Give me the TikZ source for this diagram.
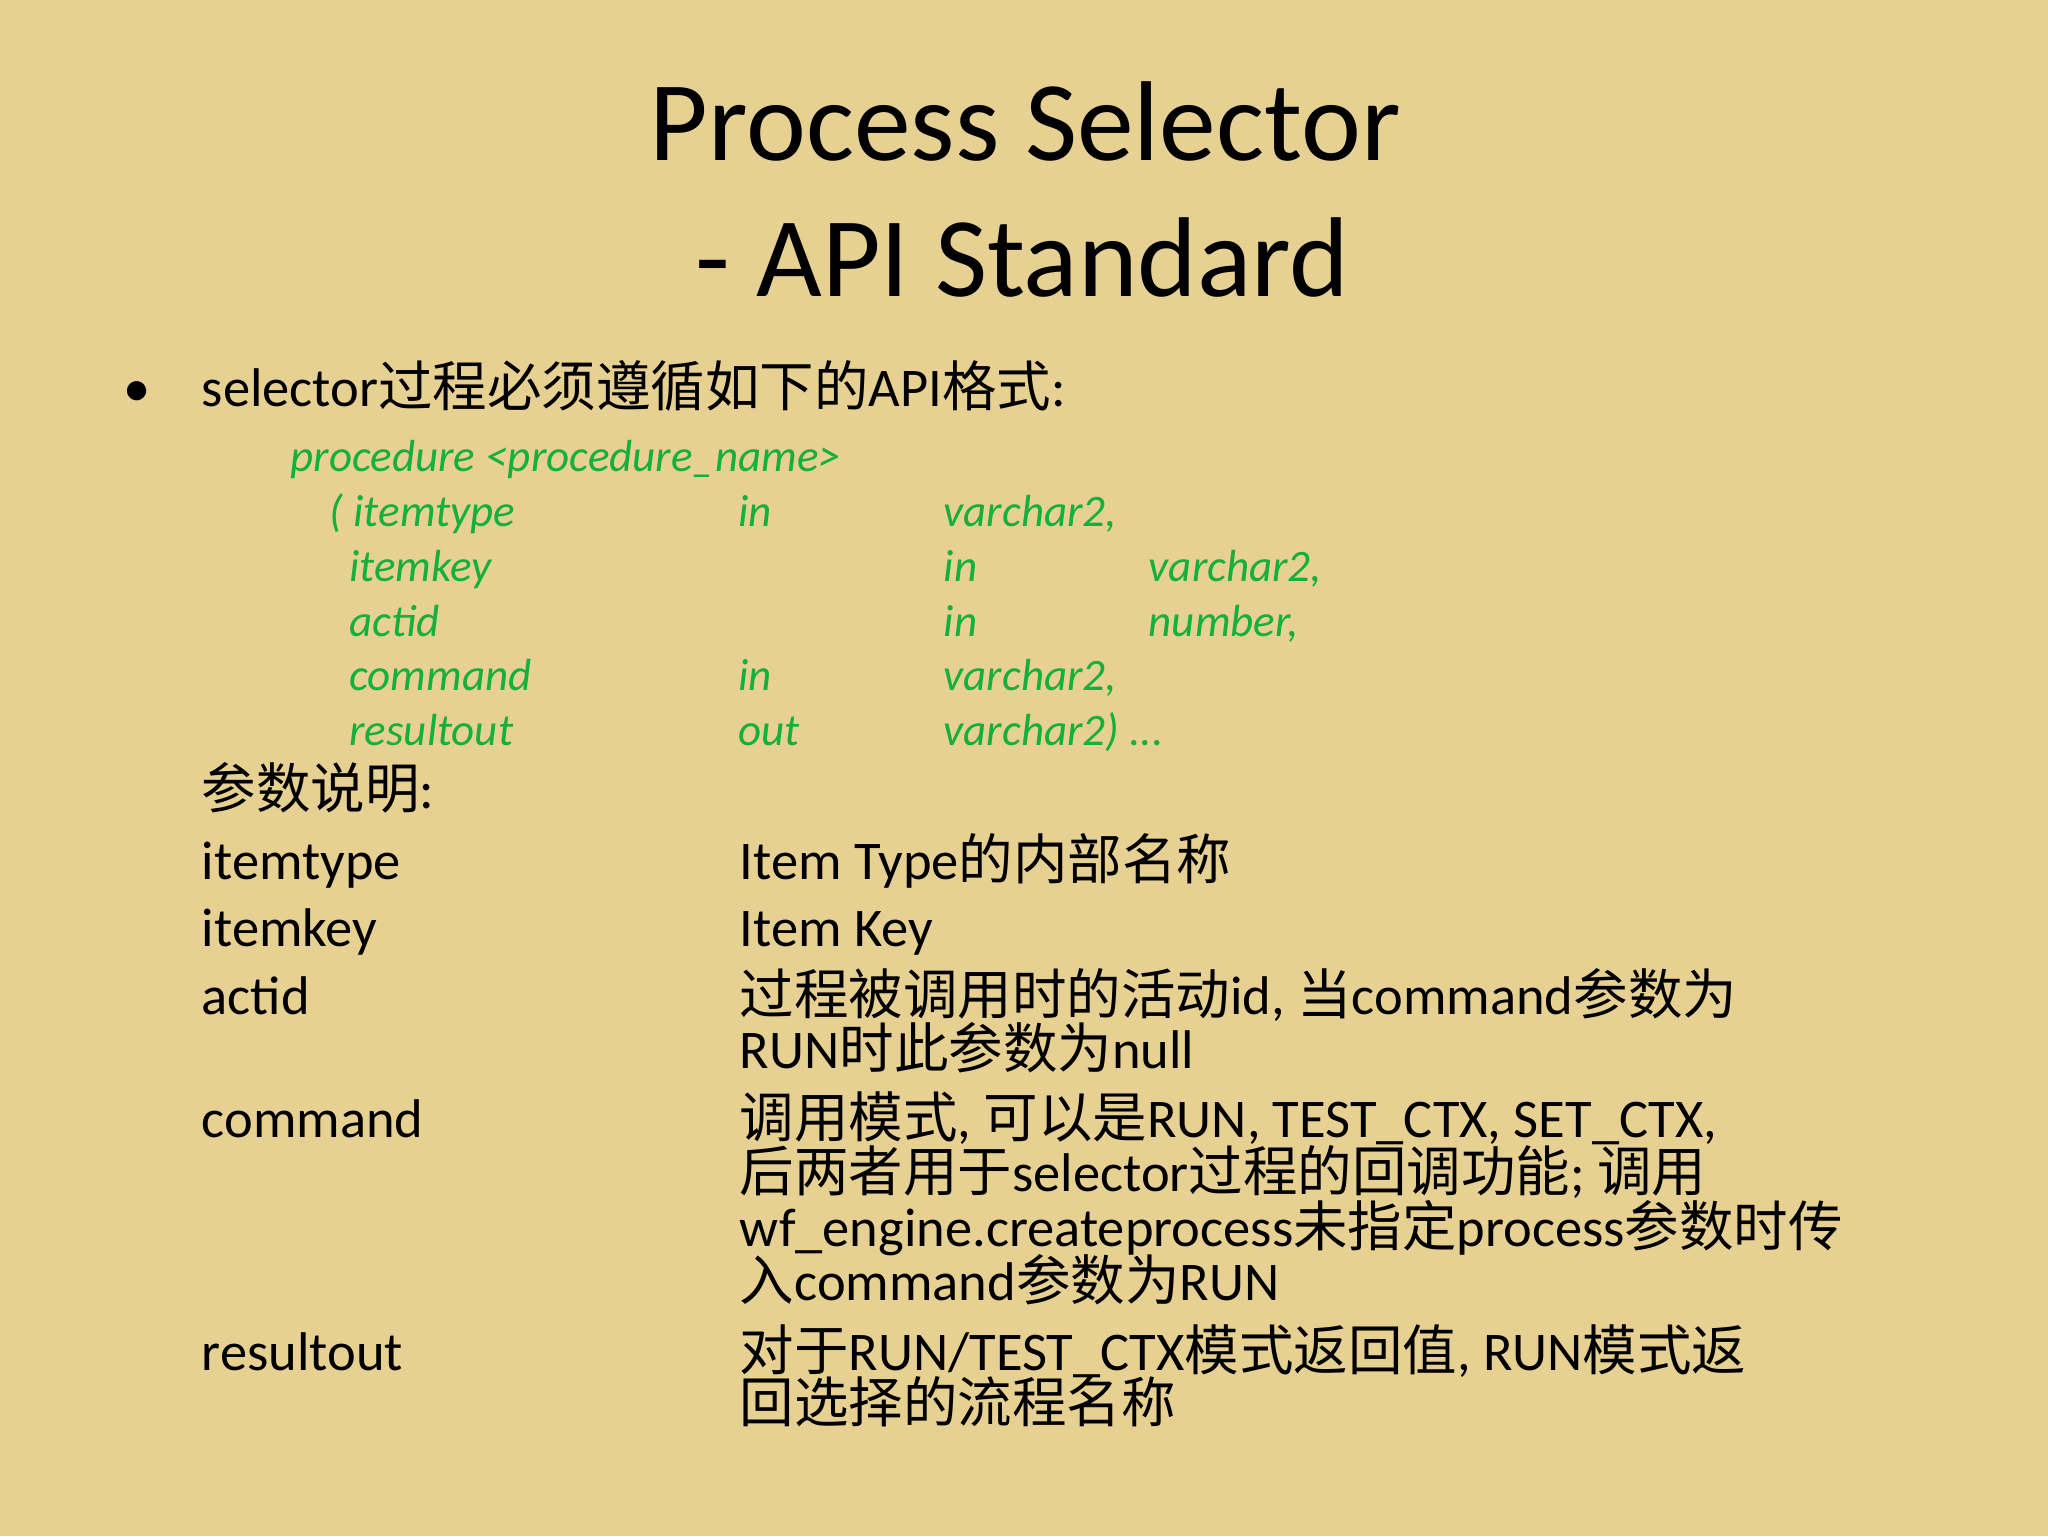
\documentclass[tikz,border=0pt]{standalone}
\usepackage{fontspec}
\setmainfont{Carlito}
\newfontfamily\cjk{Noto Sans CJK SC}
\newcommand\zh[1]{{\cjk #1}}
\definecolor{bg}{RGB}{231,209,146}
\definecolor{grn}{RGB}{20,175,60}
\tikzset{
 tl/.style={anchor=base west,inner sep=0pt,font=\fontsize{15.5}{18}\selectfont},
 gl/.style={anchor=base west,inner sep=0pt,text=grn,font=\fontsize{12.8}{15}\selectfont\itshape},
 tt/.style={anchor=base,inner sep=0pt,font=\fontsize{32.3}{38}\selectfont}}
\begin{document}
\begin{tikzpicture}[x=0.1306mm,y=-0.1306mm]
\fill[bg] (0,0) rectangle (1568,1176);
\node[tt] (t1) at (785,123) {Process Selector};
\node[tt] (t2) at (783,227) {- API Standard};
\node[tl] (b) at (94,311) {\textbullet};
\node[tl] (s) at (154,311) {selector\zh{过程必须遵循如下的}API\zh{格式}:};
\node[gl] (g0) at (222,361) {procedure <procedure\_name>};
\node[gl] (g1a) at (252,403) {( itemtype}; \node[gl] (g1b) at (565,403) {in}; \node[gl] (g1c) at (722,403) {varchar2,};
\node[gl] (g2a) at (267,445) {itemkey}; \node[gl] (g2b) at (722,445) {in}; \node[gl] (g2c) at (879,445) {varchar2,};
\node[gl] (g3a) at (267,487) {actid}; \node[gl] (g3b) at (722,487) {in}; \node[gl] (g3c) at (879,487) {number,};
\node[gl] (g4a) at (267,529) {command}; \node[gl] (g4b) at (565,529) {in}; \node[gl] (g4c) at (722,529) {varchar2,};
\node[gl] (g5a) at (267,571) {resultout}; \node[gl] (g5b) at (565,571) {out}; \node[gl] (g5c) at (722,571) {varchar2) ...};
\node[tl] (p) at (154,619) {\zh{参数说明}:};
\node[tl] (r1) at (154,673) {itemtype}; \node[tl] (d1) at (566,673) {Item Type\zh{的内部名称}};
\node[tl] (r2) at (154,725) {itemkey}; \node[tl] (d2) at (566,725) {Item Key};
\node[tl] (r3) at (154,777) {actid};
\node[tl] (d3) at (566,777) {\zh{过程被调用时的活动}id, \zh{当}command\zh{参数为}};
\node[tl] (d3b) at (566,818) {RUN\zh{时此参数为}null};
\node[tl] (r4) at (154,871) {command};
\node[tl] (d4) at (566,871) {\zh{调用模式}, \zh{可以是}RUN, TEST\_CTX, SET\_CTX,};
\node[tl] (d4b) at (566,912) {\zh{后两者用于}selector\zh{过程的回调功能}; \zh{调用}};
\node[tl] (d4c) at (566,954) {wf\_engine.createprocess\zh{未指定}process\zh{参数时传}};
\node[tl] (d4d) at (566,996) {\zh{入}command\zh{参数为}RUN};
\node[tl] (r5) at (154,1049) {resultout};
\node[tl] (d5) at (566,1049) {\zh{对于}RUN/TEST\_CTX\zh{模式返回值}, RUN\zh{模式返}};
\node[tl] (d5b) at (566,1089) {\zh{回选择的流程名称}};
\end{tikzpicture}
\end{document}
